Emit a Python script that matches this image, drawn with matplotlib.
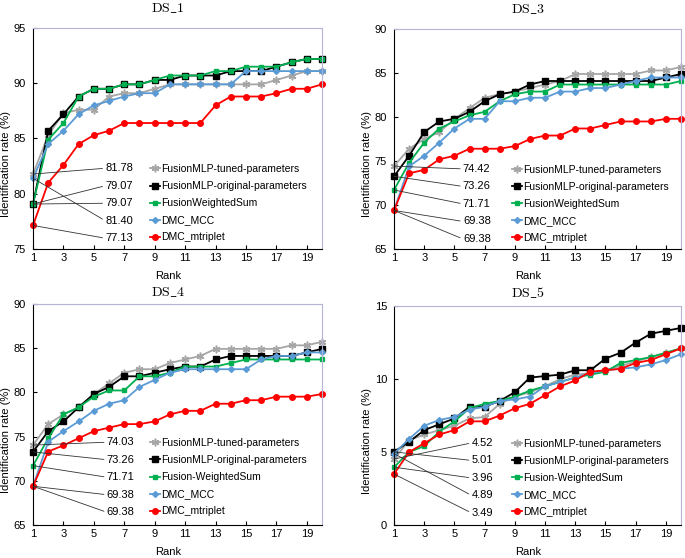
import matplotlib
matplotlib.use('Agg')
import matplotlib.pyplot as plt

plt.rcParams['font.family'] = ['Liberation Sans', 'DejaVu Sans']
plt.rcParams['mathtext.fontset'] = 'cm'

# ranks on the x axis
ranks = [1, 2, 3, 4, 5, 6, 7, 8, 9, 10, 11, 12, 13, 14, 15, 16, 17, 18, 19, 20]
rank_ticks = [1, 3, 5, 7, 9, 11, 13, 15, 17, 19]

# DS_1
ds1_tuned = [81.78, 85.3, 87.3, 87.6, 87.6, 88.8, 89.1, 89.1, 89.5, 89.9,
             89.9, 89.9, 89.9, 89.9, 89.9, 89.9, 90.3, 90.7, 91.1, 91.1]
ds1_original = [79.07, 85.7, 87.2, 88.8, 89.5, 89.5, 89.9, 89.9, 90.3, 90.3,
                90.7, 90.7, 90.7, 91.1, 91.1, 91.1, 91.5, 91.9, 92.2, 92.2]
ds1_wsum = [79.07, 84.9, 86.4, 88.8, 89.5, 89.5, 89.9, 89.9, 90.3, 90.7,
            90.7, 90.7, 91.1, 91.1, 91.5, 91.5, 91.5, 91.9, 92.2, 92.2]
ds1_mcc = [81.40, 84.5, 85.7, 87.2, 88.0, 88.4, 88.8, 89.1, 89.1, 89.9,
           89.9, 89.9, 89.9, 89.9, 91.1, 91.1, 91.1, 91.1, 91.1, 91.1]
ds1_mtriplet = [77.13, 81.0, 82.6, 84.5, 85.3, 85.7, 86.4, 86.4, 86.4, 86.4,
                86.4, 86.4, 88.0, 88.8, 88.8, 88.8, 89.1, 89.5, 89.5, 89.9]

# DS_3
ds3_tuned = [74.42, 76.4, 77.5, 78.3, 79.8, 81.0, 82.2, 82.6, 82.9, 83.3,
             83.7, 84.1, 84.9, 84.9, 84.9, 84.9, 84.9, 85.3, 85.3, 85.7]
ds3_original = [73.26, 75.6, 78.3, 79.5, 79.8, 80.6, 81.8, 82.6, 82.9, 83.7,
                84.1, 84.1, 84.1, 84.1, 84.1, 84.1, 84.1, 84.1, 84.5, 84.9]
ds3_wsum = [71.71, 74.8, 77.1, 78.7, 79.5, 80.2, 80.6, 81.8, 82.6, 82.9,
            82.9, 83.7, 83.7, 83.7, 83.7, 83.7, 83.7, 83.7, 83.7, 84.1]
ds3_mcc = [69.38, 74.4, 75.6, 77.1, 78.7, 79.8, 79.8, 81.8, 81.8, 82.2,
           82.2, 82.9, 82.9, 83.3, 83.3, 83.7, 84.1, 84.5, 84.5, 84.5]
ds3_mtriplet = [69.38, 73.6, 74.0, 75.2, 75.6, 76.4, 76.4, 76.4, 76.7, 77.5,
                77.9, 77.9, 78.7, 78.7, 79.1, 79.5, 79.5, 79.5, 79.8, 79.8]

# DS_4
ds4_tuned = [74.03, 76.4, 77.5, 78.3, 79.8, 81.0, 82.2, 82.6, 82.6, 83.3,
             83.7, 84.1, 84.9, 84.9, 84.9, 84.9, 84.9, 85.3, 85.3, 85.7]
ds4_original = [73.26, 75.6, 76.7, 78.3, 79.8, 80.6, 81.8, 81.8, 82.2, 82.6,
                82.9, 82.9, 83.7, 84.1, 84.1, 84.1, 84.1, 84.1, 84.5, 84.9]
ds4_wsum = [71.71, 74.8, 77.5, 78.3, 79.5, 80.2, 80.2, 81.8, 81.8, 82.2,
            82.9, 82.9, 82.9, 83.3, 83.7, 83.7, 83.7, 83.7, 83.7, 83.7]
ds4_mcc = [69.38, 74.4, 75.6, 76.7, 77.9, 78.7, 79.1, 80.6, 81.4, 82.2,
           82.6, 82.6, 82.6, 82.6, 82.6, 83.7, 84.1, 84.1, 84.5, 84.5]
ds4_mtriplet = [69.38, 73.3, 74.0, 74.8, 75.6, 76.0, 76.4, 76.4, 76.7, 77.5,
                77.9, 77.9, 78.7, 78.7, 79.1, 79.1, 79.5, 79.5, 79.5, 79.8]

# DS_5
ds5_tuned = [4.52, 5.8, 6.2, 6.5, 6.8, 7.3, 7.4, 8.3, 8.8, 9.1,
             9.5, 10.0, 10.3, 10.4, 10.6, 10.9, 11.2, 11.5, 11.8, 12.1]
ds5_original = [5.01, 5.7, 6.5, 6.9, 7.3, 8.1, 8.1, 8.5, 9.1, 10.1,
                10.2, 10.3, 10.6, 10.6, 11.4, 11.8, 12.5, 13.1, 13.3, 13.5]
ds5_wsum = [3.96, 5.0, 5.4, 6.4, 7.1, 8.0, 8.3, 8.5, 8.8, 9.2,
            9.5, 9.8, 10.1, 10.3, 10.5, 11.1, 11.3, 11.5, 11.8, 12.1]
ds5_mcc = [4.89, 5.9, 6.8, 7.2, 7.4, 7.9, 8.1, 8.5, 8.6, 8.8,
           9.5, 9.8, 10.1, 10.4, 10.6, 10.7, 10.8, 11.0, 11.3, 11.7]
ds5_mtriplet = [3.49, 5.0, 5.6, 6.2, 6.5, 7.1, 7.1, 7.5, 8.0, 8.3,
                8.9, 9.5, 9.9, 10.5, 10.6, 10.7, 11.1, 11.3, 11.7, 12.1]

labels_a = ['FusionMLP-tuned-parameters', 'FusionMLP-original-parameters',
            'FusionWeightedSum', 'DMC_MCC', 'DMC_mtriplet']
labels_b = ['FusionMLP-tuned-parameters', 'FusionMLP-original-parameters',
            'Fusion-WeightedSum', 'DMC_MCC', 'DMC_mtriplet']

# line styles: colour, marker, marker size
styles = [
    ('#A6A6A6', (6, 2, 0), 5.5),
    ('#000000', 's', 4.0),
    ('#00B050', 's', 3.4),
    ('#5B9BD5', 'D', 3.0),
    ('#FF0000', 'o', 4.0),
]

fs = 8
fs_leg = 7.5
fig = plt.figure(figsize=(6.85, 5.58), dpi=100)

panels = [
    # title, series, labels, ylim, rect, title pos, annotation x, legend x, legend y
    ('DS\\_1', [ds1_tuned, ds1_original, ds1_wsum, ds1_mcc, ds1_mtriplet], labels_a,
     (75, 95), [0.0482, 0.5538, 0.4219, 0.396], (168, 8.5), 0.25, 0.405, 0.207),
    ('DS\\_3', [ds3_tuned, ds3_original, ds3_wsum, ds3_mcc, ds3_mtriplet], labels_a,
     (65, 90), [0.5752, 0.5538, 0.419, 0.394], (528, 9.3), 0.24, 0.41, 0.205),
    ('DS\\_4', [ds4_tuned, ds4_original, ds4_wsum, ds4_mcc, ds4_mtriplet], labels_b,
     (65, 90), [0.0482, 0.0591, 0.4219, 0.3966], (168, 292), 0.255, 0.405, 0.216),
    ('DS\\_5', [ds5_tuned, ds5_original, ds5_wsum, ds5_mcc, ds5_mtriplet], labels_b,
     (0, 15), [0.5752, 0.0591, 0.419, 0.3925], (528, 293), 0.27, 0.41, 0.215),
]

for title, series, labels, ylim, rect, tpos, ann_x, leg_x, leg_y in panels:
    ax = fig.add_axes(rect)
    for vals, lab, (c, m, ms) in zip(series, labels, styles):
        ax.plot(ranks, vals, color=c, marker=m, markersize=ms, lw=1.3,
                markeredgewidth=1.0 if m != (6, 2, 0) else 1.1,
                label=lab, clip_on=False)
    ax.set_xlim(1, 20)
    ax.set_ylim(*ylim)
    ax.set_xticks(rank_ticks)
    ax.set_yticks(range(ylim[0], ylim[1] + 1, 5))
    ax.tick_params(direction='in', length=3, width=0.8, labelsize=fs)
    ax.tick_params(axis='x', pad=3)
    ax.tick_params(axis='y', pad=5)
    for s in ('left', 'bottom'):
        ax.spines[s].set_color('black')
        ax.spines[s].set_linewidth(0.8)
    for s in ('top', 'right'):
        ax.spines[s].set_color('#B4B4D4')
        ax.spines[s].set_linewidth(0.8)
    ax.set_xlabel('Rank', fontsize=fs)
    ax.set_ylabel('Identification rate (%)', fontsize=fs)
    ax.xaxis.set_label_coords(0.467, -0.1)
    ax.yaxis.set_label_coords(-0.075, 0.385)
    fig.text(tpos[0] / 685, 1 - tpos[1] / 558, '$\\mathrm{' + title + '}$',
             ha='center', va='center', fontsize=10)

    ax.legend(loc='center left', bbox_to_anchor=(leg_x, leg_y), frameon=False,
              fontsize=fs_leg, handlelength=1.0, handletextpad=0.1, labelspacing=0.68,
              borderpad=0, borderaxespad=0)

    step = 17.5 / (rect[3] * 558)
    for i, vals in enumerate(series):
        ax.annotate(f'{vals[0]:.2f}', xy=(ranks[0], vals[0]), xycoords='data',
                    xytext=(ann_x, leg_y + (2 - i) * step), textcoords='axes fraction',
                    ha='left', va='center', fontsize=fs,
                    arrowprops=dict(arrowstyle='-', color='#333333', lw=0.6,
                                    shrinkA=0, shrinkB=0, relpos=(0, 0.5)))

fig.savefig('out.png', dpi=100)
